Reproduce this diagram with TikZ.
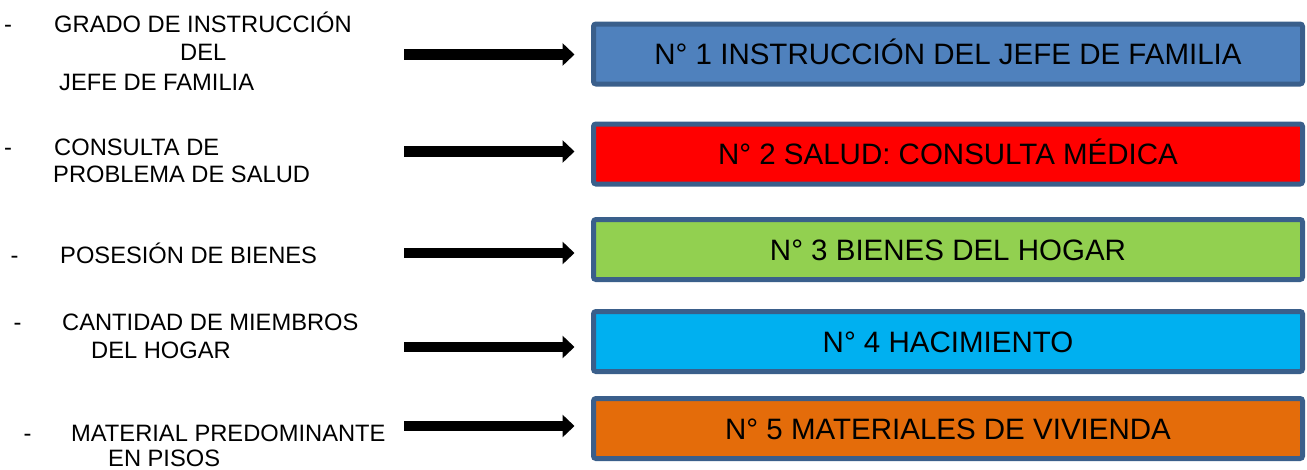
\documentclass[tikz,border=0pt]{standalone}
\usepackage{fontspec}
\setmainfont{Liberation Sans}
\usetikzlibrary{arrows.meta}
\definecolor{bordc}{HTML}{3A5F8B}
\definecolor{fillA}{HTML}{4F81BD}
\definecolor{fillB}{HTML}{FF0000}
\definecolor{fillC}{HTML}{92D050}
\definecolor{fillD}{HTML}{00B0F0}
\definecolor{fillE}{HTML}{E46C0A}
\begin{document}
\begin{tikzpicture}[x=1pt,y=-1pt,
  box/.style={draw=bordc, line width=5pt, rounded corners=2.5pt,
    minimum width=709pt, minimum height=60pt, inner sep=0pt,
    text height=21.1pt, text depth=0pt,
    font=\fontsize{29.5}{34}\selectfont},
  lbl/.style={anchor=base west, inner sep=0pt, font=\fontsize{23.7}{28}\selectfont},
  bigarrow/.style={line width=10.5pt, -{Triangle[length=12pt,width=22pt]}, shorten >=16.5pt}]
\useasboundingbox (0,0) rectangle (1307,469);

% boxes
\node[box, fill=fillA] (b1) at (948,54)    {N° 1 INSTRUCCIÓN DEL JEFE DE FAMILIA};
\node[box, fill=fillB] (b2) at (948,154)   {N° 2 SALUD: CONSULTA MÉDICA};
\node[box, fill=fillC] (b3) at (948,249.5) {N° 3 BIENES DEL HOGAR};
\node[box, fill=fillD] (b4) at (948,341.5) {N° 4 HACIMIENTO};
\node[box, fill=fillE] (b5) at (948,428.5) {N° 5 MATERIALES DE VIVIENDA};

% left labels
\node[lbl] (d1) at (4,32) {-};
\node[lbl] (l1a) at (54,32) {GRADO DE INSTRUCCIÓN};
\node[lbl] (l1b) at (180,60) {DEL};
\node[lbl] (l1c) at (59,90) {JEFE DE FAMILIA};

\node[lbl] (d2) at (4,155) {-};
\node[lbl] (l2a) at (54,155) {CONSULTA DE};
\node[lbl] (l2b) at (53,182) {PROBLEMA DE SALUD};

\node[lbl] (d3) at (10.5,263) {-};
\node[lbl] (l3a) at (60,263) {POSESIÓN DE BIENES};

\node[lbl] (d4) at (13.5,330) {-};
\node[lbl] (l4a) at (62,330) {CANTIDAD DE MIEMBROS};
\node[lbl] (l4b) at (91,358) {DEL HOGAR};

\node[lbl] (d5) at (23.5,441) {-};
\node[lbl] (l5a) at (71,441) {MATERIAL PREDOMINANTE};
\node[lbl] (l5b) at (108,466) {EN PISOS};

% arrows
\coordinate (t1) at (404,54.5);
\coordinate (t2) at (404,151.5);
\coordinate (t3) at (404,253);
\coordinate (t4) at (404,347);
\coordinate (t5) at (404,426);
\draw[bigarrow] (t1) -- (t1 -| b1.west);
\draw[bigarrow] (t2) -- (t2 -| b2.west);
\draw[bigarrow] (t3) -- (t3 -| b3.west);
\draw[bigarrow] (t4) -- (t4 -| b4.west);
\draw[bigarrow] (t5) -- (t5 -| b5.west);
\end{tikzpicture}
\end{document}
